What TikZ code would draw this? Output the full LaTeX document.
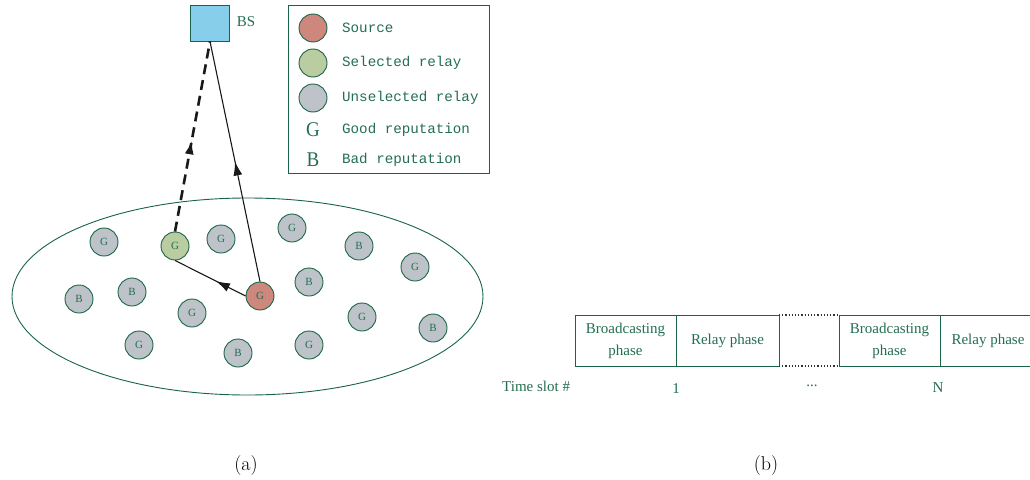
\documentclass[tikz,border=0pt]{standalone}
\usepackage{fontspec}
\usetikzlibrary{arrows.meta,decorations.markings}
\newfontfamily\tnr{Liberation Serif}
\newfontfamily\mono{Liberation Mono}
\definecolor{tgreen}{RGB}{35,110,80}
\definecolor{lgreen}{RGB}{25,100,70}
\definecolor{srcfill}{RGB}{205,135,125}
\definecolor{selfill}{RGB}{185,205,160}
\definecolor{unsfill}{RGB}{190,195,202}
\definecolor{bsfill}{RGB}{135,206,235}
\tikzset{
  relay/.style={circle,draw=lgreen,line width=0.9pt,minimum size=28pt,inner sep=0pt,fill=unsfill,text=tgreen,font=\tnr\fontsize{11}{11}\selectfont},
  legtext/.style={anchor=west,text=tgreen,font=\mono\fontsize{14.2}{14.2}\selectfont,inner sep=0pt},
  legletter/.style={text=tgreen,font=\tnr\fontsize{19}{19}\selectfont,inner sep=0pt,yscale=1.1},
  cell/.style={text=tgreen,font=\tnr\fontsize{15}{22}\selectfont,align=center,inner sep=0pt},
  midarrow/.style={postaction={decorate},decoration={markings,mark=at position #1 with {\arrow{Latex[length=14pt,width=9pt]}}}},
  link/.style={line width=1.1pt,black!90},
  caption/.style={font=\fontsize{20}{20}\selectfont}
}
\begin{document}
\begin{tikzpicture}[x=1pt,y=-1pt]
\useasboundingbox (0,0) rectangle (1030,479);
% BS
\node[draw=lgreen,fill=bsfill,minimum width=39pt,minimum height=36pt,inner sep=0pt,line width=0.9pt] (bs) at (210,23) {};
\node[text=tgreen,font=\tnr\fontsize{15}{15}\selectfont] (bslab) at (246,22) {BS};
% legend
\node[draw=lgreen,line width=0.9pt,minimum width=201pt,minimum height=168pt,inner sep=0pt] (leg) at (388.5,89) {};
\node[relay,fill=srcfill] (l1) at (313,28) {};
\node[legtext] (t1) at (342,28) {Source};
\node[relay,fill=selfill] (l2) at (313,63) {};
\node[legtext] (t2) at (342,63) {Selected relay};
\node[relay] (l3) at (313,98) {};
\node[legtext] (t3) at (342,98) {Unselected relay};
\node[legletter] (l4) at (313,130) {G};
\node[legtext] (t4) at (342,130) {Good reputation};
\node[legletter] (l5) at (313,160) {B};
\node[legtext] (t5) at (342,160) {Bad reputation};
% ellipse
\draw[lgreen,line width=0.9pt] (247.5,296.5) ellipse [x radius=235.5,y radius=98.5];
% relays
\node[relay] (r1) at (104,242) {G};
\node[relay,fill=selfill] (sel) at (175,246) {G};
\node[relay] (r3) at (221,239) {G};
\node[relay] (r4) at (292,228) {G};
\node[relay] (r5) at (359,246) {B};
\node[relay] (r6) at (415,267) {G};
\node[relay] (r7) at (79,299) {B};
\node[relay] (r8) at (132,292) {B};
\node[relay] (r9) at (192,313) {G};
\node[relay,fill=srcfill] (src) at (260,296) {G};
\node[relay] (r11) at (309,282) {B};
\node[relay] (r12) at (362,317) {G};
\node[relay] (r13) at (433,328) {B};
\node[relay] (r14) at (139,345) {G};
\node[relay] (r15) at (238,353) {B};
\node[relay] (r16) at (309,345) {G};
% links
\draw[link,midarrow=0.42] (src.west) -- (sel.south);
\draw[link,midarrow=0.5] (src.north) -- (bs.south);
\draw[link,line width=2.6pt,dash pattern=on 10pt off 6pt,midarrow=0.48] (sel.north) -- (bs.south);
% time slots
\begin{scope}[lgreen,line width=0.9pt]
\draw (1030,315) -- (839,315) (779,315) -- (575,315) -- (575,366) -- (779,366) (839,366) -- (1030,366);
\draw (676,315) -- (676,366);
\draw (779,315) -- (779,366);
\draw (839,315) -- (839,366);
\draw (940,315) -- (940,366);
\draw[black!80,dotted,line width=1.2pt] (779,315) -- (839,315) (779,366) -- (839,366);
\end{scope}
\node[cell] (c1) at (625.5,340.5) {Broadcasting\\phase};
\node[cell] (c2) at (727.5,340.5) {Relay phase};
\node[cell] (c3) at (889.5,340.5) {Broadcasting\\phase};
\node[cell] (c4) at (988,340.5) {Relay phase};
\node[cell,anchor=west] (ts) at (502,386) {Time slot \#};
\node[cell] (n1) at (676,389) {1};
\node[cell] (n2) at (812,386) {...};
\node[cell] (n3) at (938,388) {N};
% captions
\node[caption] (ca) at (246,466) {(a)};
\node[caption] (cb) at (766,466) {(b)};
\end{tikzpicture}
\end{document}
